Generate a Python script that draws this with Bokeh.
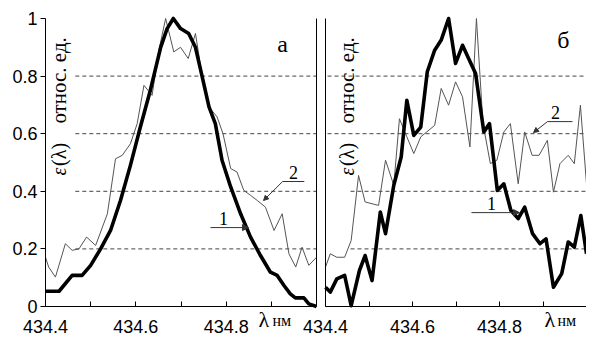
import math
from bokeh.plotting import figure
from bokeh.models import Range1d, FixedTicker, Label, Arrow, NormalHead, LinearAxis
from bokeh.embed import file_html
from bokeh.resources import INLINE

# ---- data (wavelength nm, relative units) ----
a1_x = [434.4, 434.43, 434.459, 434.481, 434.5, 434.522, 434.544, 434.566, 434.588, 434.61,
        434.632, 434.655, 434.669, 434.683, 434.699, 434.717, 434.732, 434.747, 434.762, 434.776,
        434.791, 434.81, 434.832, 434.854, 434.876, 434.898, 434.913, 434.928, 434.942, 434.953,
        434.972, 434.983, 435.0]
a1_y = [0.053, 0.053, 0.108, 0.108, 0.143, 0.2, 0.264, 0.368, 0.49, 0.623,
        0.75, 0.9, 0.964, 1.0, 0.965, 0.948, 0.9, 0.797, 0.693, 0.635,
        0.507, 0.415, 0.322, 0.241, 0.177, 0.119, 0.108, 0.073, 0.044, 0.03,
        0.03, 0.009, 0.0]

a2_x = [434.4, 434.407, 434.422, 434.444, 434.459, 434.474, 434.491, 434.511, 434.537, 434.555,
        434.57, 434.588, 434.603, 434.618, 434.636, 434.651, 434.666, 434.684, 434.699, 434.716,
        434.732, 434.747, 434.762, 434.78, 434.793, 434.81, 434.824, 434.839, 434.854, 434.869,
        434.887, 434.906, 434.924, 434.939, 434.954, 434.968, 434.983, 435.0]
a2_y = [0.171, 0.137, 0.102, 0.218, 0.195, 0.2, 0.241, 0.212, 0.322, 0.513,
        0.525, 0.565, 0.635, 0.768, 0.733, 0.89, 1.0, 0.884, 0.9, 0.861,
        0.948, 0.797, 0.693, 0.658, 0.6, 0.479, 0.467, 0.403, 0.386, 0.368,
        0.345, 0.264, 0.322, 0.183, 0.137, 0.206, 0.143, 0.171]

b1_x = [434.4, 434.411, 434.426, 434.444, 434.459, 434.478, 434.491, 434.507, 434.526, 434.538,
        434.557, 434.574, 434.587, 434.603, 434.619, 434.634, 434.651, 434.666, 434.683, 434.699,
        434.715, 434.729, 434.745, 434.764, 434.777, 434.795, 434.81, 434.826, 434.843, 434.858,
        434.876, 434.893, 434.907, 434.924, 434.943, 434.958, 434.972, 434.987, 435.0]
b1_y = [0.067, 0.05, 0.096, 0.108, 0.003, 0.125, 0.177, 0.09, 0.328, 0.253,
        0.421, 0.519, 0.716, 0.594, 0.623, 0.815, 0.89, 0.925, 1.0, 0.844,
        0.907, 0.861, 0.809, 0.606, 0.635, 0.403, 0.426, 0.334, 0.305, 0.345,
        0.253, 0.218, 0.235, 0.067, 0.114, 0.224, 0.206, 0.316, 0.183]

b2_x = [434.4, 434.411, 434.426, 434.444, 434.459, 434.476, 434.491, 434.522, 434.538, 434.557,
        434.57, 434.587, 434.603, 434.619, 434.651, 434.666, 434.683, 434.699, 434.715, 434.732,
        434.747, 434.762, 434.779, 434.794, 434.81, 434.825, 434.843, 434.858, 434.875, 434.891,
        434.91, 434.924, 434.939, 434.958, 434.972, 434.986, 435.0]
b2_y = [0.137, 0.183, 0.171, 0.171, 0.229, 0.455, 0.363, 0.351, 0.508, 0.421,
        0.652, 0.589, 0.531, 0.589, 0.629, 0.757, 0.699, 0.78, 0.728, 0.554,
        1.0, 0.635, 0.496, 0.508, 0.606, 0.635, 0.426, 0.606, 0.525, 0.525,
        0.577, 0.397, 0.496, 0.525, 0.496, 0.699, 0.426]

x_lo, x_hi = 434.4, 435.0
x_major = [434.4, 434.6, 434.8]
x_minor = [434.5, 434.7, 434.9]
y_ticks = [0, 0.2, 0.4, 0.6, 0.8, 1]
y_labels = {0: "0", 0.2: "0.2", 0.4: "0.4", 0.6: "0.6", 0.8: "0.8", 1: "1"}
grid_levels = [0.2, 0.4, 0.6, 0.8]

TICK_FONT = "Liberation Sans"
SERIF = "Liberation Serif"
GRID_COLOR = "#444444"
THIN_COLOR = "#555555"
LEAD = "#333333"

# canvas geometry: panel a spans px 45..316, panel b px 325..586, value 0 at py 306, 1 at py 18
W, H = 586, 335
A_PX = (45, 316)
B_PX = (325, 586)
Y_PX = (306, 18)


def span_range(lo_px, hi_px, total, lo_v, hi_v):
    k = (hi_v - lo_v) / (hi_px - lo_px)
    return Range1d(lo_v - lo_px * k, lo_v + (total - lo_px) * k)


xr_a = span_range(A_PX[0], A_PX[1], W, x_lo, x_hi)
xr_b = span_range(B_PX[0], B_PX[1], W, x_lo, x_hi)
ky = 1.0 / (Y_PX[0] - Y_PX[1])
yr = Range1d(-(H - Y_PX[0]) * ky, 1 + Y_PX[1] * ky)

p = figure(width=W, height=H, x_range=xr_a, y_range=yr,
           x_axis_location=None, y_axis_location=None,
           output_backend="svg", toolbar_location=None,
           min_border_left=0, min_border_right=0, min_border_top=0, min_border_bottom=0)
p.extra_x_ranges = {"b": xr_b}
p.outline_line_color = None
p.xgrid.visible = False
p.ygrid.visible = False
p.background_fill_color = "white"
p.border_fill_color = "white"


def x_axis(rname):
    ax = LinearAxis(x_range_name=rname, fixed_location=0, bounds=(x_lo, x_hi),
                    ticker=FixedTicker(ticks=x_major, minor_ticks=x_minor),
                    major_tick_in=5, major_tick_out=0, minor_tick_in=5, minor_tick_out=0,
                    major_label_standoff=13, major_label_text_font=TICK_FONT,
                    major_label_text_font_size="18px", major_label_text_color="black",
                    axis_line_color="black")
    p.add_layout(ax, "below")


x_axis("default")
x_axis("b")

# y axis of panel a with labels
p.add_layout(LinearAxis(fixed_location=x_lo, bounds=(0, 1),
                        ticker=FixedTicker(ticks=y_ticks, minor_ticks=[]),
                        major_label_overrides=y_labels, major_tick_out=5, major_tick_in=0,
                        major_label_standoff=3, major_label_text_font=TICK_FONT,
                        major_label_text_font_size="18px", major_label_text_color="black",
                        axis_line_color="black"), "left")
# right border of panel a
p.add_layout(LinearAxis(fixed_location=x_hi, bounds=(0, 1),
                        ticker=FixedTicker(ticks=[], minor_ticks=[]),
                        major_tick_out=0, major_tick_in=0, major_label_standoff=0,
                        axis_line_color="black"), "left")
# left border of panel b
p.add_layout(LinearAxis(x_range_name="b", fixed_location=x_lo, bounds=(0, 1),
                        ticker=FixedTicker(ticks=[], minor_ticks=[]),
                        major_tick_out=0, major_tick_in=0, major_label_standoff=0,
                        axis_line_color="black"), "left")


def panel(rname, thick_x, thick_y, thin_x, thin_y, grid_x0, letter, lab_x, ann):
    p.segment(x0=grid_x0, y0=grid_levels, x1=[x_hi] * len(grid_levels), y1=grid_levels,
              line_color=GRID_COLOR, line_width=1, line_dash="4 3", x_range_name=rname)
    p.line(thin_x, thin_y, line_color=THIN_COLOR, line_width=1, x_range_name=rname)
    p.line(thick_x, thick_y, line_color="black", line_width=3.6, line_join="round",
           x_range_name=rname)

    def lab(x, y, text, **kw):
        opts = dict(text_font=SERIF, text_color="black", x_range_name=rname)
        opts.update(kw)
        p.add_layout(Label(x=x, y=y, text=text, **opts))

    # vertical y-label
    lab(lab_x, 0.455, "ε", angle=math.pi / 2, text_align="left", text_baseline="middle",
        text_font_style="italic", text_font_size="20px")
    lab(lab_x, 0.488, "(λ)", angle=math.pi / 2, text_align="left", text_baseline="middle",
        text_font_size="20px")
    lab(lab_x, 0.635, "относ. ед.", angle=math.pi / 2, text_align="left",
        text_baseline="middle", text_font_size="21px")
    # panel letter
    lab(letter[1], letter[2], letter[0], text_align="center", text_baseline="middle",
        text_font_size="24px")
    # λ нм
    lab(ann["lam"][0], -0.002, "λ", text_align="left", text_baseline="top",
        text_font_size="22px")
    lab(ann["lam"][1], -0.018, "нм", text_align="left", text_baseline="top",
        text_font_size="16px")
    # annotation 1
    lab(ann["one"][0], ann["one"][1], "1", text_align="center", text_baseline="middle",
        text_font_size="18px")
    x0, x1, yy = ann["arrow1"]
    p.add_layout(Arrow(x_start=x0, y_start=yy, x_end=x1, y_end=yy, line_color=LEAD,
                       line_width=1, x_range_name=rname,
                       end=NormalHead(size=6, fill_color=LEAD, line_color=LEAD)))
    # annotation 2
    lab(ann["two"][0], ann["two"][1], "2", text_align="center", text_baseline="middle",
        text_font_size="18px")
    hx0, hx1, hy, dx, dy = ann["lead2"]
    p.segment(x0=[hx0], y0=[hy], x1=[hx1], y1=[hy], line_color=LEAD, line_width=1,
              x_range_name=rname)
    p.add_layout(Arrow(x_start=hx0, y_start=hy, x_end=dx, y_end=dy, line_color=LEAD,
                       line_width=1, x_range_name=rname,
                       end=NormalHead(size=5, fill_color=LEAD, line_color=LEAD)))


panel("default", a1_x, a1_y, a2_x, a2_y, [434.466] * 4, ("а", 434.925, 0.91), 434.4288,
      {"lam": (434.8716, 434.9026),
       "one": (434.794, 0.306), "arrow1": (434.7653, 434.8494, 0.274),
       "two": (434.949, 0.465), "lead2": (434.925, 434.973, 0.434, 434.8827, 0.368)})

panel("b", b1_x, b1_y, b2_x, b2_y, [434.4575, 434.4575, 434.4046, 434.4046],
      ("б", 434.947, 0.924), 434.4483,
      {"lam": (434.9034, 434.9333),
       "one": (434.7816, 0.358), "arrow1": (434.7356, 434.846, 0.326),
       "two": (434.9287, 0.674), "lead2": (434.9103, 434.9678, 0.642, 434.8782, 0.604)})

open("out.html", "w").write(file_html(p, INLINE))
